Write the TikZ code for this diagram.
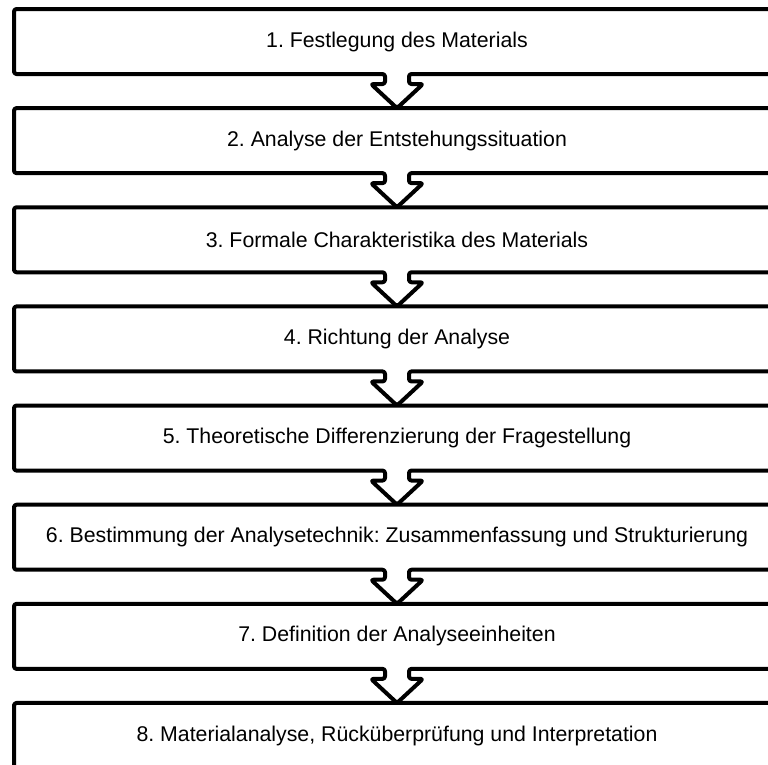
\documentclass[tikz,border=0pt]{standalone}
\usepackage{fontspec}
\setmainfont{Liberation Sans}
\usetikzlibrary{calc}
\frenchspacing
\begin{document}
\begin{tikzpicture}[x=1pt,y=1pt,
  stage/.style={rectangle, draw=none, outer sep=0pt, inner sep=0pt,
    minimum width=766pt, minimum height=65pt,
    font=\fontsize{21.3}{25}\selectfont, anchor=center},
  outline/.style={draw=black, line width=4pt, line join=round,
    rounded corners=2.5pt}]
\useasboundingbox (0,0) rectangle (768,-764);
\begin{scope}
\clip (0,0) rectangle (768,-764);
\foreach \i/\txt in {
  1/{1. Festlegung des Materials},
  2/{2. Analyse der Entstehungssituation},
  3/{3. Formale Charakteristika des Materials},
  4/{4. Richtung der Analyse},
  5/{5. Theoretische Differenzierung der Fragestellung},
  6/{6. Bestimmung der Analysetechnik: Zusammenfassung und Strukturierung},
  7/{7. Definition der Analyseeinheiten},
  8/{8. Materialanalyse, Rücküberprüfung und Interpretation}}
  \node[stage] (b\i) at (397,{-41.5-(\i-1)*99.14}) {\txt};
% each stage frame runs on into the hollow arrow below it
\foreach \i [evaluate=\i as \j using int(\i+1)] in {1,...,7} {
  \draw[outline] ($(b\i.south)+(12,0)$) -- (b\i.south east)
    -- (b\i.north east) -- (b\i.north west) -- (b\i.south west)
    -- ($(b\i.south)+(-12,0)$) -- ++(0,-10) -- ++(-14,0)
    -- (b\j.north) -- ($(b\i.south)+(26,-10)$) -- ++(-14,0) -- cycle;
}
\draw[outline] (b8.south west) rectangle (b8.north east);
\end{scope}
\end{tikzpicture}
\end{document}
